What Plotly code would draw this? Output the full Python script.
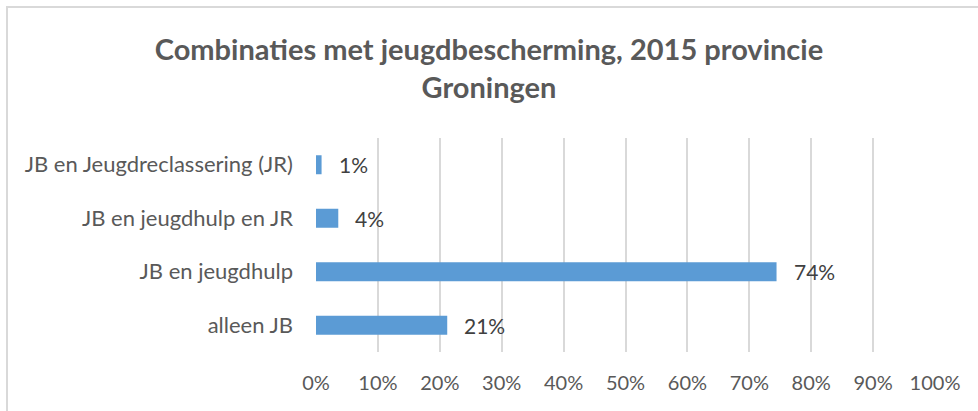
import plotly.graph_objects as go

categories = ["JB en Jeugdreclassering (JR)", "JB en jeugdhulp en JR", "JB en jeugdhulp", "alleen JB"]
values = [0.009, 0.036, 0.744, 0.212]
tick_vals = [0, 0.1, 0.2, 0.3, 0.4, 0.5, 0.6, 0.7, 0.8, 0.9, 1.0]
tick_text = ["0%", "10%", "20%", "30%", "40%", "50%", "60%", "70%", "80%", "90%", "100%"]
title_text = "Combinaties met jeugdbescherming, 2015 provincie<br>Groningen"

W, H = 978, 411
ML, MR, MT, MB = 316, 43, 138, 59
FONT = "Lato"

fig = go.Figure()
fig.add_trace(go.Bar(
    x=values, y=categories, orientation="h",
    marker=dict(color="#5B9BD5", line=dict(width=0)),
    width=0.355,
    hoverinfo="x+y",
))

for v, c in zip(values, categories):
    fig.add_annotation(x=v, y=c, xref="x", yref="y", text=f"{v:.0%}",
                       showarrow=False, xanchor="left", yanchor="middle",
                       xshift=15, font=dict(family=FONT, size=21, color="#404040"))

pw = W - ML - MR
ph = H - MT - MB
fig.add_shape(type="rect", xref="paper", yref="paper",
              x0=(7 - ML) / pw, x1=(W + 20 - ML) / pw,
              y0=-(H + 20 - MT - ph) / ph, y1=1 + (MT - 7) / ph,
              line=dict(color="#D9D9D9", width=2), fillcolor="rgba(0,0,0,0)", layer="below")

fig.update_layout(
    width=W, height=H,
    margin=dict(l=ML, r=MR, t=MT, b=MB),
    paper_bgcolor="white", plot_bgcolor="white",
    showlegend=False,
    title=dict(text=title_text, x=0.5, xref="container", xanchor="center",
               y=1 - 60 / H, yref="container", yanchor="middle",
               font=dict(family=FONT, size=29, color="#595959", weight="bold")),
    xaxis=dict(range=[0, 1], tickvals=tick_vals, ticktext=tick_text,
               showgrid=True, gridcolor="#D9D9D9", gridwidth=1.5,
               zeroline=False, showline=False, ticks="",
               tickfont=dict(family=FONT, size=20, color="#595959"),
               ticklabelstandoff=17),
    yaxis=dict(categoryorder="array", categoryarray=categories[::-1],
               showgrid=False, zeroline=False, showline=False, ticks="",
               tickfont=dict(family=FONT, size=22, color="#595959"),
               ticklabelstandoff=22),
    font=dict(family=FONT),
)

fig.write_html("out.html", config={"displayModeBar": False},
               post_script="document.body.style.margin='0';document.body.style.overflow='hidden';")
